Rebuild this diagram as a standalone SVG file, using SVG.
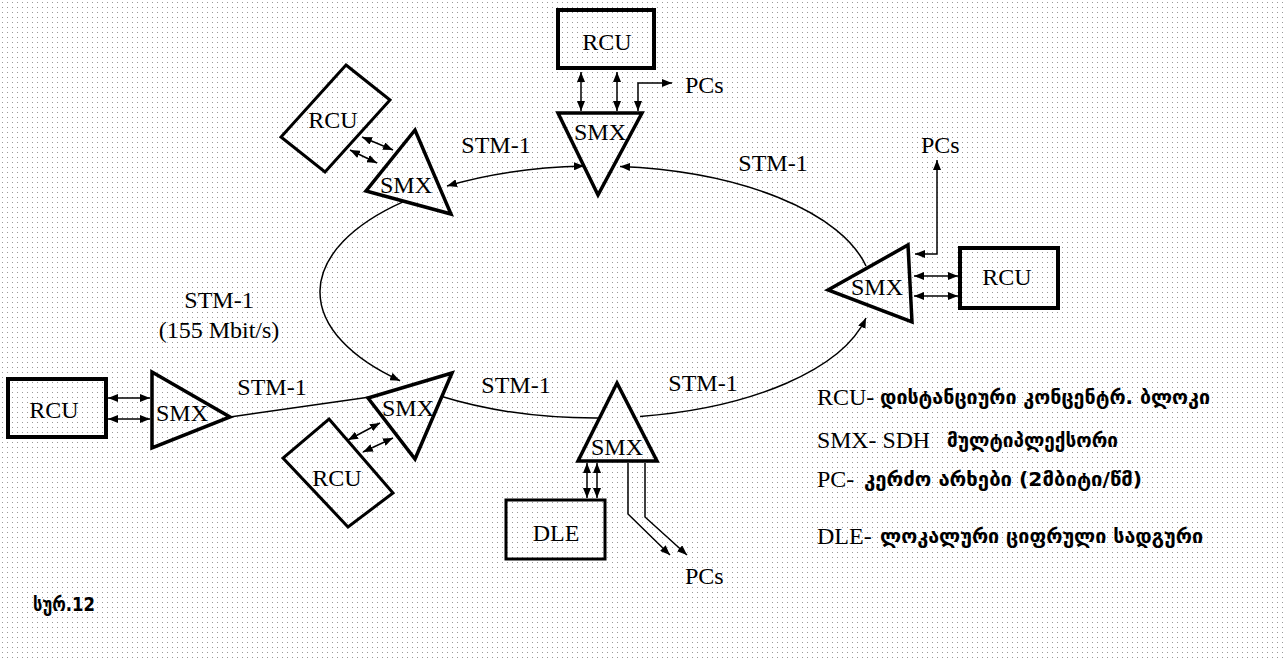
<svg xmlns="http://www.w3.org/2000/svg" width="1286" height="661" viewBox="0 0 1286 661">
<defs>
<pattern id="dots" x="0" y="0" width="5" height="5" patternUnits="userSpaceOnUse">
<rect x="2" y="2" width="1" height="1" fill="#9a9a9a"/>
</pattern>
<marker id="ah" viewBox="0 0 10 8" refX="10" refY="4" markerWidth="10" markerHeight="8" markerUnits="userSpaceOnUse" orient="auto-start-reverse">
<path d="M0,0 L10,4 L0,8 z" fill="#000"/>
</marker>
<style>
.t{font-family:"Liberation Serif",serif;font-size:24px;fill:#000}
.m{text-anchor:middle}
.g{font-family:"DejaVu Sans",sans-serif;font-weight:bold;font-size:19px;fill:#000}
.box{fill:none;stroke:#000;stroke-width:4}
.rbox{fill:none;stroke:#000;stroke-width:3;stroke-linejoin:miter}
.tri{fill:none;stroke:#000;stroke-width:3.5;stroke-linejoin:miter}
.ring{fill:none;stroke:#000;stroke-width:1.5}
.a2{fill:none;stroke:#000;stroke-width:1.5;marker-start:url(#ah);marker-end:url(#ah)}
.a1{fill:none;stroke:#000;stroke-width:1.5;marker-end:url(#ah)}
</style>
</defs>
<rect width="1286" height="661" fill="#fff"/>
<rect width="1286" height="661" fill="url(#dots)"/>

<g id="connectors">
<path class="ring" d="M584,166.1 A276,126 0 0 0 447,186" marker-start="url(#ah)" marker-end="url(#ah)"/>
<path class="ring" d="M866,266 A276,126 0 0 0 620,166.5" marker-end="url(#ah)"/>
<path class="ring" d="M640,416.4 A276,126 0 0 0 866,318" marker-end="url(#ah)"/>
<path class="ring" d="M598,418 A276,126 0 0 1 441,396.3"/>
<path class="ring" d="M403,201.9 A276,126 0 0 0 400,380.7" marker-end="url(#ah)"/>
<line class="ring" x1="230" y1="417" x2="370" y2="397"/>
<line class="a2" x1="581" y1="72" x2="581" y2="111"/>
<line class="a2" x1="617" y1="72" x2="617" y2="111"/>
<path class="a2" d="M672,83 H638 V111"/>
<line class="a2" x1="362" y1="137" x2="393" y2="150"/>
<line class="a2" x1="350" y1="150" x2="377" y2="163"/>
<line class="a2" x1="914" y1="276" x2="958" y2="276"/>
<line class="a2" x1="914" y1="296" x2="958" y2="296"/>
<path class="a2" d="M915,254 H937 V160"/>
<line class="a2" x1="108" y1="398" x2="150" y2="398"/>
<line class="a2" x1="108" y1="419" x2="150" y2="419"/>
<line class="a2" x1="348" y1="440" x2="380" y2="423"/>
<line class="a2" x1="363" y1="452" x2="393" y2="438"/>
<line class="a2" x1="587" y1="463" x2="587" y2="498"/>
<line class="a2" x1="597" y1="463" x2="597" y2="498"/>
<path class="a1" d="M628,463 V514 L670,555"/>
<path class="a1" d="M645,463 V517 L687,555"/>
</g>

<g id="rcu-top">
<rect class="box" x="558" y="10" width="96" height="58"/>
<text class="t m" x="607" y="50">RCU</text>
</g>
<g id="smx-top">
<polygon class="tri" points="558,113 642,113 598,195"/>
<text class="t m" x="600" y="140">SMX</text>
</g>
<text class="t" x="685" y="93">PCs</text>

<g id="rcu-topleft">
<polygon class="rbox" points="346,65 390,100 325,172 281,137"/>
<text class="t m" x="333" y="128">RCU</text>
</g>
<g id="smx-topleft">
<polygon class="tri" points="415,130 366,191 451,214"/>
<text class="t m" x="406" y="193">SMX</text>
</g>

<g id="smx-right">
<polygon class="tri" points="828,290 908,245 912,322"/>
<text class="t m" x="877" y="295">SMX</text>
</g>
<g id="rcu-right">
<rect class="box" x="960" y="248" width="98" height="60"/>
<text class="t m" x="1007" y="285">RCU</text>
</g>
<text class="t" x="921" y="153">PCs</text>

<g id="rcu-left">
<rect class="box" x="8" y="379" width="98" height="58"/>
<text class="t m" x="54" y="418">RCU</text>
</g>
<g id="smx-left">
<polygon class="tri" points="152,372 152,448 230,417"/>
<text class="t m" x="182" y="421">SMX</text>
</g>

<g id="smx-bottomleft">
<polygon class="tri" points="452,373 368,398 415,459"/>
<text class="t m" x="408" y="416">SMX</text>
</g>
<g id="rcu-bottomleft">
<polygon class="rbox" points="329,419 393,493 348,527 283,458"/>
<text class="t m" x="337" y="486">RCU</text>
</g>

<g id="smx-bottom">
<polygon class="tri" points="617,383 657,461 578,461"/>
<text class="t m" x="617" y="455">SMX</text>
</g>
<g id="dle">
<rect class="rbox" x="506" y="500" width="99" height="59"/>
<text class="t m" x="556" y="541">DLE</text>
</g>
<text class="t" x="685" y="584">PCs</text>

<g id="labels">
<text class="t m" x="496" y="153">STM-1</text>
<text class="t m" x="773" y="171">STM-1</text>
<text class="t m" x="219" y="308">STM-1</text>
<text class="t m" x="219" y="338">(155 Mbit/s)</text>
<text class="t m" x="516" y="393">STM-1</text>
<text class="t m" x="703" y="391">STM-1</text>
<text class="t m" x="272" y="395">STM-1</text>
</g>

<g id="legend">
<text class="t" x="817" y="405">RCU-</text>
<text class="g" x="880" y="404" textLength="330" lengthAdjust="spacingAndGlyphs">დისტანციური კონცენტრ. ბლოკი</text>
<text class="t" x="817" y="448" textLength="113" lengthAdjust="spacingAndGlyphs">SMX- SDH</text>
<text class="g" x="947" y="447" textLength="171" lengthAdjust="spacingAndGlyphs">მულტიპლექსორი</text>
<text class="t" x="817" y="487">PC-</text>
<text class="g" x="864" y="486" textLength="278" lengthAdjust="spacingAndGlyphs">კერძო არხები (2მბიტი/წმ)</text>
<text class="t" x="817" y="544">DLE-</text>
<text class="g" x="880" y="543" textLength="323" lengthAdjust="spacingAndGlyphs">ლოკალური ციფრული სადგური</text>
</g>
<text class="g" x="33" y="611" textLength="62" lengthAdjust="spacingAndGlyphs">სურ.12</text>
</svg>
